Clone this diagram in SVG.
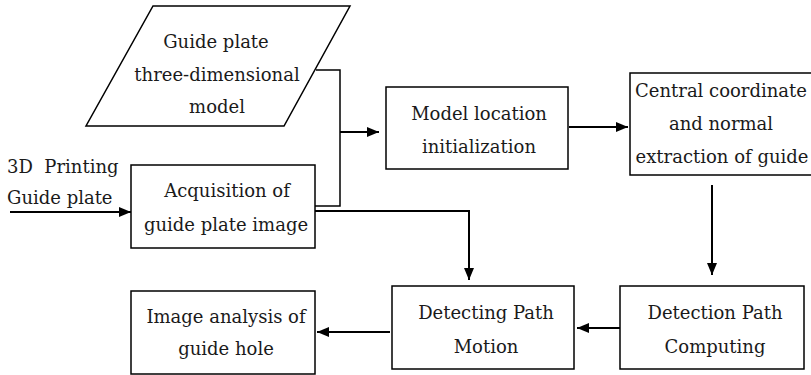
<svg xmlns="http://www.w3.org/2000/svg" width="811" height="375" viewBox="0 0 811 375">
<defs>
<marker id="ah" markerWidth="12" markerHeight="10" refX="12" refY="5" orient="auto" markerUnits="userSpaceOnUse">
<path d="M0,0 L12,5 L0,10 Z" fill="#000"/>
</marker>
<style>
.box{fill:#fff;stroke:#000;stroke-width:1.5}
text{font-family:'DejaVu Serif','Liberation Serif',serif;font-size:18px;fill:#1a1a1a}
.t{text-anchor:middle}
.tl{white-space:pre}
.c{fill:none;stroke:#000;stroke-width:1.5}
.a{fill:none;stroke:#000;stroke-width:2;marker-end:url(#ah)}
</style>
</defs>
<rect width="811" height="375" fill="#fff"/>
<g id="connectors">
<polyline class="c" points="316,70 340,70 340,206 315,206"/>
<line class="a" x1="340" y1="132" x2="379" y2="132"/>
<line class="a" x1="569" y1="127" x2="628" y2="127"/>
<line class="a" x1="10" y1="212" x2="131" y2="212"/>
<polyline class="a" points="315,211 469,211 469,280"/>
<line class="a" x1="712" y1="185" x2="712" y2="275"/>
<line class="a" x1="620" y1="328" x2="577" y2="328"/>
<line class="a" x1="390" y1="332" x2="317" y2="332"/>
</g>
<g id="model3d">
<polygon class="box" points="153,6 350,6 284,126 86,126"/>
<text class="t" x="216" y="48">Guide plate</text>
<text class="t" x="217" y="81">three-dimensional</text>
<text class="t" x="217" y="113">model</text>
</g>
<g id="input-label">
<text class="tl" x="7" y="173">3D  Printing</text>
<text class="tl" x="7" y="204">Guide plate</text>
</g>
<g id="acquisition">
<rect class="box" x="131" y="165" width="184" height="83"/>
<text class="t" x="227" y="197">Acquisition of</text>
<text class="t" x="226" y="231">guide plate image</text>
</g>
<g id="model-location">
<rect class="box" x="386" y="87" width="182" height="82"/>
<text class="t" x="479" y="120">Model location</text>
<text class="t" x="479" y="153">initialization</text>
</g>
<g id="central">
<rect class="box" x="630" y="73" width="183" height="102"/>
<text class="t" x="721" y="97">Central coordinate</text>
<text class="t" x="721" y="130">and normal</text>
<text class="t" x="722" y="163">extraction of guide</text>
</g>
<g id="image-analysis">
<rect class="box" x="131" y="291" width="184" height="83"/>
<text class="t" x="226" y="323">Image analysis of</text>
<text class="t" x="226" y="355">guide hole</text>
</g>
<g id="detecting">
<rect class="box" x="392" y="286" width="182" height="83"/>
<text class="t" x="486" y="319">Detecting Path</text>
<text class="t" x="486" y="353">Motion</text>
</g>
<g id="computing">
<rect class="box" x="620" y="286" width="184" height="83"/>
<text class="t" x="715" y="319">Detection Path</text>
<text class="t" x="715" y="353">Computing</text>
</g>
</svg>
